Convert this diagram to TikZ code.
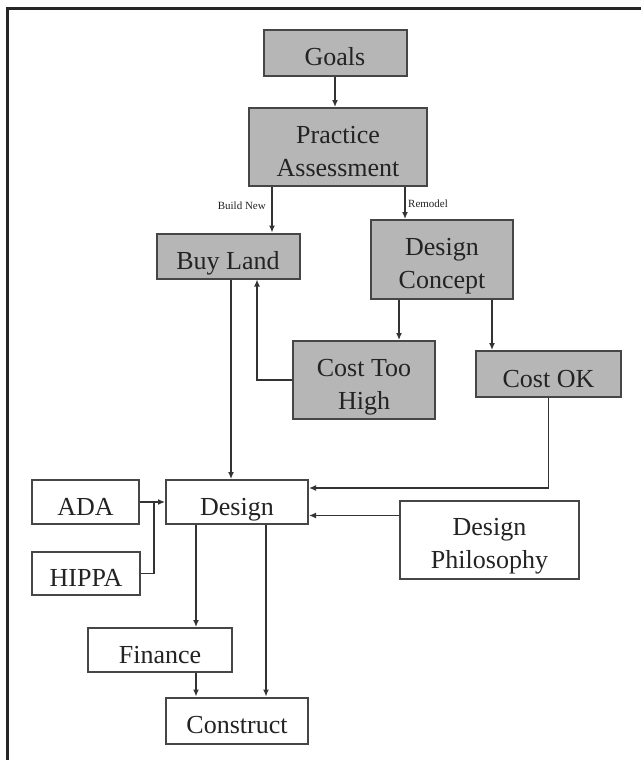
\documentclass[tikz,border=0pt]{standalone}
\usepackage{fontspec}
\setmainfont{Liberation Serif}
\usetikzlibrary{arrows.meta}
\definecolor{boxfill}{RGB}{182,182,182}
\definecolor{edgecol}{RGB}{70,70,70}
\definecolor{txtcol}{RGB}{35,35,35}
\newcommand\mkone[1]{\raisebox{0pt}[26pt][0pt]{#1}}
\newcommand\mktwo[2]{\raisebox{0pt}[58pt][0pt]{\begin{tabular}[b]{@{}c@{}}#1\\#2\end{tabular}}}
\begin{document}
\begin{tikzpicture}[x=1pt,y=-1pt,
  base/.style={draw=edgecol, line width=2pt, inner sep=0pt,
    font=\fontsize{26}{33}\selectfont, text=txtcol},
  greybox/.style={base, fill=boxfill},
  plainbox/.style={base, fill=white},
  line/.style={draw=black!80, line width=1.3pt},
  conn/.style={line, -{Latex[length=7pt,width=6pt]}},
  lab/.style={font=\fontsize{11}{13}\selectfont, inner sep=1pt, text=txtcol}]
\useasboundingbox (0,0) rectangle (640,760);
\fill[white] (0,0) rectangle (640,760);
\draw[line width=3pt, black!85] (7.5,770) -- (7.5,8.5) -- (650,8.5);

\node[greybox, minimum width=143pt, minimum height=46pt] (goals) at (335,53) {\mkone{Goals}};
\node[greybox, minimum width=178pt, minimum height=78pt] (pa) at (338,147) {\mktwo{Practice}{Assessment}};
\node[greybox, minimum width=143pt, minimum height=45pt] (buy) at (228,256) {\mkone{Buy Land}};
\node[greybox, minimum width=142pt, minimum height=79pt] (dc) at (442,259.5) {\mktwo{Design}{Concept}};
\node[greybox, minimum width=142pt, minimum height=78pt] (cth) at (364,380) {\mktwo{Cost Too}{High}};
\node[greybox, minimum width=145pt, minimum height=46pt] (cok) at (548.5,374) {\mkone{Cost OK}};

\node[plainbox, minimum width=142pt, minimum height=44pt] (design) at (237,502) {\mkone{Design}};
\node[plainbox, minimum width=107pt, minimum height=44pt] (ada) at (85.5,502) {\mkone{ADA}};
\node[plainbox, minimum width=108pt, minimum height=43pt] (hippa) at (86,573.5) {\mkone{HIPPA}};
\node[plainbox, minimum width=179pt, minimum height=78pt] (dp) at (489.5,539.5) {\mktwo{Design}{Philosophy}};
\node[plainbox, minimum width=144pt, minimum height=44pt] (fin) at (160,650) {\mkone{Finance}};
\node[plainbox, minimum width=142pt, minimum height=46pt] (con) at (237,720.5) {\mkone{Construct}};

\node[lab, anchor=east] (bn) at (267,206) {Build New};
\node[lab, anchor=west] (rm) at (407,204) {Remodel};

\draw[conn] (goals.south) -- (goals.south |- pa.north);
\draw[conn] ([xshift=-66pt]pa.south) -- ([xshift=-66pt]pa.south |- buy.north);
\draw[conn] ([xshift=67pt]pa.south) -- ([xshift=67pt]pa.south |- dc.north);
\draw[conn] ([xshift=-43pt]dc.south) -- ([xshift=-43pt]dc.south |- cth.north);
\draw[conn] ([xshift=50pt]dc.south) -- ([xshift=50pt]dc.south |- cok.north);
\draw[conn] (cth.west) -| ([xshift=29pt]buy.south);
\draw[conn] ([xshift=3pt]buy.south) -- ([xshift=3pt]buy.south |- design.north);
\draw[conn] (cok.south) |- ([yshift=14pt]design.east);
\draw[conn] ([yshift=24pt]dp.west) -- ([yshift=24pt]dp.west -| design.east);
\draw[conn] (ada.east) -- (design.west);
\coordinate (join) at (154,502);
\draw[line] (hippa.east) -| (join);
\draw[conn] ([xshift=-41pt]design.south) -- ([xshift=-41pt]design.south |- fin.north);
\draw[conn] ([xshift=29pt]design.south) -- ([xshift=29pt]design.south |- con.north);
\draw[conn] ([xshift=36pt]fin.south) -- ([xshift=36pt]fin.south |- con.north);
\end{tikzpicture}
\end{document}
